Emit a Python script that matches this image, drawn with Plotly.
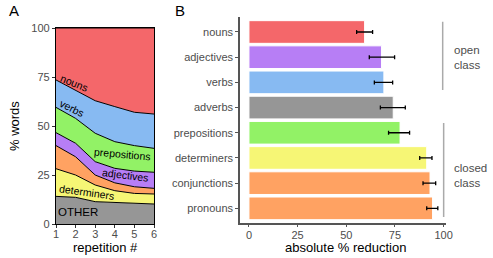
import plotly.graph_objects as go

# ---------------- Panel A data ----------------
repetition = [1, 2, 3, 4, 5, 6]
other_pct = [14.1, 13.6, 11.4, 11.0, 10.5, 10.2]
determiners_pct = [14.1, 11.4, 8.5, 6.0, 5.1, 5.1]
pronouns_pct = [11.8, 9.3, 5.1, 4.0, 3.4, 2.9]
adjectives_pct = [6.6, 6.9, 6.8, 7.4, 8.0, 8.2]
prepositions_pct = [12.9, 12.7, 14.5, 13.6, 13.0, 12.2]
verbs_pct = [14.0, 14.1, 16.6, 17.9, 17.0, 17.5]
nouns_pct = [26.5, 32.0, 37.1, 40.1, 43.0, 43.9]

# ---------------- Panel B data ----------------
categories = ["nouns", "adjectives", "verbs", "adverbs", "prepositions",
              "determiners", "conjunctions", "pronouns"]
reduction = [59.4, 68.1, 69.3, 74.1, 77.6, 91.3, 93.0, 94.3]
err_low = [55.3, 61.8, 64.4, 67.5, 71.7, 87.7, 89.4, 91.3]
err_high = [63.5, 74.8, 73.8, 80.3, 82.5, 94.0, 95.9, 97.0]

RED = "#F4676A"
BLUE = "#87BAF2"
GREEN = "#92F266"
PURPLE = "#B77EF5"
ORANGE = "#FFA262"
YELLOW = "#F6F675"
GRAY = "#969696"
bar_colors = [RED, PURPLE, BLUE, GRAY, GREEN, YELLOW, ORANGE, ORANGE]

FONT = "Liberation Sans, Arial, Helvetica, sans-serif"
TICK = "#4D4D4D"

fig = go.Figure()

layers = [("OTHER", other_pct, GRAY), ("determiners", determiners_pct, YELLOW),
          ("pronouns", pronouns_pct, ORANGE), ("adjectives", adjectives_pct, PURPLE),
          ("prepositions", prepositions_pct, GREEN), ("verbs", verbs_pct, BLUE),
          ("nouns", nouns_pct, RED)]
for name, vals, col in layers:
    fig.add_trace(go.Scatter(x=repetition, y=vals, stackgroup="a", name=name,
                             mode="lines", line=dict(color="black", width=1),
                             fillcolor=col, xaxis="x", yaxis="y", showlegend=False))

err_plus = [h - v for h, v in zip(err_high, reduction)]
err_minus = [v - l for v, l in zip(reduction, err_low)]
fig.add_trace(go.Bar(y=categories, x=reduction, orientation="h", width=0.9,
                     marker=dict(color=bar_colors, line=dict(color="white", width=1)),
                     error_x=dict(type="data", array=err_plus, arrayminus=err_minus,
                                  color="black", thickness=1.3, width=2),
                     xaxis="x2", yaxis="y2", showlegend=False))

annots = [
    dict(text="nouns", x=1.95, y=72.0, textangle=22),
    dict(text="verbs", x=1.8, y=59.0, textangle=26),
    dict(text="prepositions", x=4.37, y=35.5, textangle=5),
    dict(text="adjectives", x=4.57, y=24.8, textangle=7),
    dict(text="determiners", x=2.55, y=16.3, textangle=8),
]
ann = []
for a in annots:
    ann.append(dict(xref="x", yref="y", showarrow=False, xanchor="center", yanchor="middle",
                    font=dict(family=FONT, size=10.5, color="black"), **a))
ann.append(dict(xref="x", yref="y", x=2.12, y=5.9, text="OTHER", showarrow=False,
                xanchor="center", yanchor="middle",
                font=dict(family=FONT, size=11.5, color="black")))


def paper_text(px, py, text, size, color="black", angle=0, xanchor="center"):
    return dict(xref="paper", yref="paper", x=px / 493, y=1 - py / 258, text=text,
                textangle=angle, showarrow=False, xanchor=xanchor, yanchor="middle",
                align="left", font=dict(family=FONT, size=size, color=color))


ann.append(paper_text(14, 11, "A", 15))
ann.append(paper_text(180, 11, "B", 15))
ann.append(paper_text(14, 126, "% words", 13, angle=-90))
ann.append(paper_text(105, 247, "repetition #", 13))
ann.append(paper_text(345, 247, "absolute % reduction", 13))
ann.append(paper_text(452, 58, "open<br>class", 11.5, TICK, xanchor="left"))
ann.append(paper_text(452, 175, "closed<br>class", 11.5, TICK, xanchor="left"))

shapes = [
    dict(type="line", xref="x2", yref="y2", x0=99.5, x1=99.5, y0=-0.41, y1=2.3,
         line=dict(color="#AAAAAA", width=1.5)),
    dict(type="line", xref="x2", yref="y2", x0=100, x1=100, y0=3.61, y1=7.34,
         line=dict(color="#AAAAAA", width=1.5)),
]

axis_common = dict(showgrid=False, zeroline=False, showline=True, automargin=False,
                   ticks="outside", ticklen=3,
                   tickfont=dict(size=11, color=TICK, family=FONT))

fig.update_layout(
    width=493, height=258, autosize=False,
    margin=dict(l=0, r=0, t=0, b=0, pad=0, autoexpand=False),
    paper_bgcolor="white", plot_bgcolor="white",
    font=dict(family=FONT, size=11, color=TICK),
    annotations=ann, shapes=shapes, bargap=0.1,
    xaxis=dict(domain=[56 / 493, 154 / 493], range=[1, 6], tickvals=repetition,
               mirror=True, linecolor="black", linewidth=1.2, tickcolor="#333333",
               ticklabelstandoff=-3, **axis_common),
    yaxis=dict(domain=[34 / 258, 230 / 258], range=[0, 100], tickvals=[0, 25, 50, 75, 100],
               mirror=True, linecolor="black", linewidth=1.2, tickcolor="#333333",
               **axis_common),
    xaxis2=dict(domain=[240 / 493, 446 / 493], range=[-4.6, 101.2],
                tickvals=[0, 25, 50, 75, 100], anchor="y2", ticklabelstandoff=-2,
                linecolor="#555555", linewidth=1.5, tickcolor="#555555", **axis_common),
    yaxis2=dict(domain=[35.3 / 258, 241.3 / 258], range=[7.57, -0.607], anchor="x2",
                type="category", categoryorder="array", categoryarray=categories,
                linecolor="#555555", linewidth=1.5, tickcolor="#555555", **axis_common),
)

fig.write_html("out.html", config={"displayModeBar": False},
               post_script="document.body.style.margin='0px';")
